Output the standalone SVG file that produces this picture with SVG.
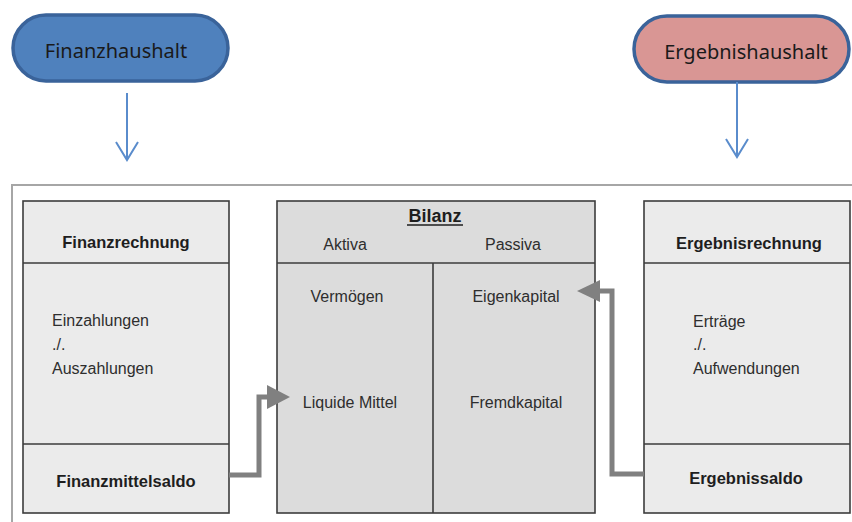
<svg xmlns="http://www.w3.org/2000/svg" width="852" height="522" viewBox="0 0 852 522">
<defs>
<style>
.pill{stroke:#3a639a;stroke-width:3.5}
.box{fill:#ebebeb;stroke:#3c3c3c;stroke-width:1.6}
.boxc{fill:#dcdcdc;stroke:#3c3c3c;stroke-width:1.6}
.div{stroke:#3c3c3c;stroke-width:1.6;fill:none}
.pt{font-family:"Noto Sans",sans-serif;font-size:20px;fill:#1a1a1a;text-anchor:middle}
.b{font-family:"Liberation Sans",Arial,sans-serif;font-size:16.5px;font-weight:bold;fill:#1e1e1e}
.r{font-family:"Liberation Sans",Arial,sans-serif;font-size:16px;fill:#2e2e2e}
.m{text-anchor:middle}
.blue{stroke:#5a8ccc;stroke-width:2;fill:none}
.gray{stroke:#808080;stroke-width:5;fill:none}
.gh{fill:#808080}
</style>
</defs>
<rect width="852" height="522" fill="#ffffff"/>
<rect x="12" y="185" width="860" height="360" fill="none" stroke="#a6a6a6" stroke-width="2"/>

<g id="finanzhaushalt">
<rect class="pill" x="13" y="15" width="215" height="66" rx="33" fill="#4f81bd"/>
<text class="pt" x="116" y="58">Finanzhaushalt</text>
</g>
<g id="ergebnishaushalt">
<rect class="pill" x="634" y="16" width="215" height="66" rx="33" fill="#d99694"/>
<text class="pt" x="746" y="59">Ergebnishaushalt</text>
</g>

<g id="finanzrechnung">
<rect class="box" x="23" y="201" width="206" height="312"/>
<path class="div" d="M23,263 H229 M23,444 H229"/>
<text class="b m" x="126" y="248">Finanzrechnung</text>
<text class="r" x="52" y="326">Einzahlungen</text>
<text class="r" x="52" y="350">./.</text>
<text class="r" x="52" y="374">Auszahlungen</text>
<text class="b m" x="126" y="487">Finanzmittelsaldo</text>
</g>

<g id="bilanz">
<rect class="boxc" x="277" y="201" width="318" height="312"/>
<path class="div" d="M277,263 H595 M433,263 V513"/>
<text class="b m" x="435" y="222" style="font-size:18px">Bilanz</text>
<line x1="407" y1="225" x2="463" y2="225" stroke="#1e1e1e" stroke-width="1.5"/>
<text class="r m" x="345" y="250">Aktiva</text>
<text class="r m" x="513" y="250">Passiva</text>
<text class="r m" x="347" y="302">Vermögen</text>
<text class="r m" x="516" y="302">Eigenkapital</text>
<text class="r m" x="350" y="408">Liquide Mittel</text>
<text class="r m" x="516" y="408">Fremdkapital</text>
</g>

<g id="ergebnisrechnung">
<rect class="box" x="644" y="201" width="206" height="312"/>
<path class="div" d="M644,263 H850 M644,444 H850"/>
<text class="b m" x="749" y="249">Ergebnisrechnung</text>
<text class="r" x="693" y="327">Erträge</text>
<text class="r" x="693" y="350">./.</text>
<text class="r" x="693" y="374">Aufwendungen</text>
<text class="b m" x="746" y="484">Ergebnissaldo</text>
</g>

<g id="connectors">
<path class="blue" d="M127,93 V160 M116,142 L127,160 L138,142"/>
<path class="blue" d="M737,82 V157 M726,139 L737,157 L748,139"/>
<path class="gray" d="M229,475 H259 V397 H269"/>
<polygon class="gh" points="267,385 290,397 267,409"/>
<path class="gray" d="M644,474 H612 V291 H598"/>
<polygon class="gh" points="600,280 577,291 600,302"/>
</g>
</svg>
